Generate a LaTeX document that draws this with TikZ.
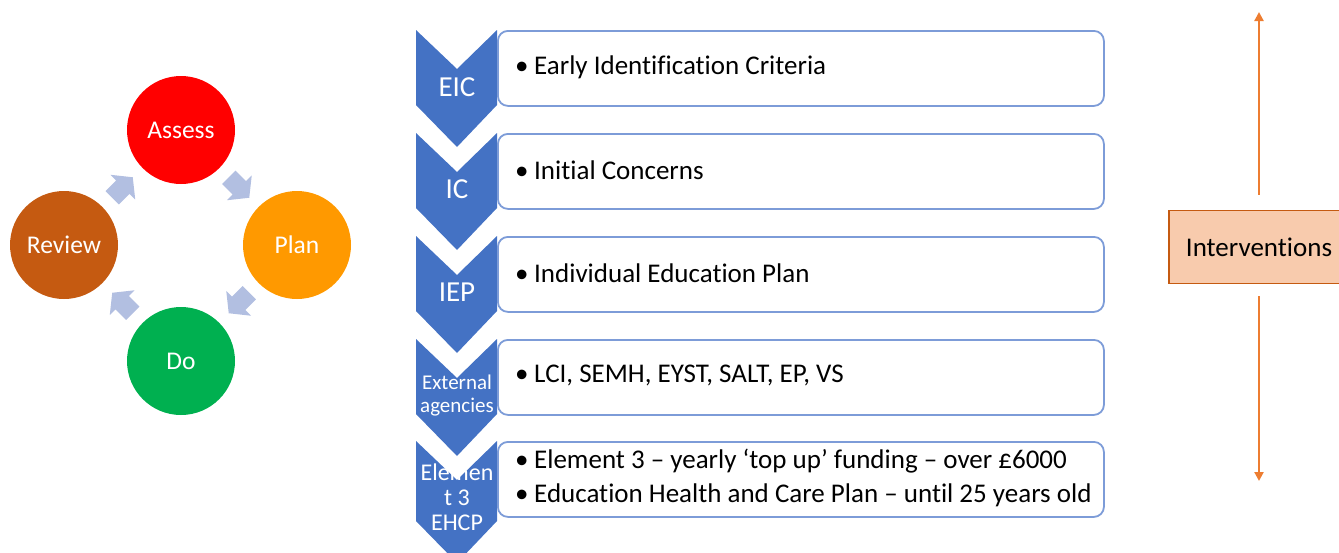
\documentclass[tikz,border=0pt]{standalone}
\usepackage{fontspec}
\setmainfont[Ligatures={NoCommon}]{Carlito}
\usetikzlibrary{calc,arrows.meta}
\definecolor{chevblue}{RGB}{68,114,196}
\definecolor{boxline}{RGB}{125,156,216}
\definecolor{cycarrow}{RGB}{178,191,225}
\definecolor{assessred}{RGB}{255,0,0}
\definecolor{planorange}{RGB}{255,153,0}
\definecolor{dogreen}{RGB}{0,176,80}
\definecolor{reviewbrown}{RGB}{197,90,17}
\definecolor{intfill}{RGB}{248,203,173}
\definecolor{intline}{RGB}{197,90,17}
\definecolor{intarrow}{RGB}{237,125,49}
\newcommand{\bitem}[1]{\makebox[19pt][l]{\textbullet}#1}
\begin{document}
\begin{tikzpicture}[x=1pt,y=-1pt,
  stage/.style={circle, minimum size=108pt, inner sep=0pt, text=white,
    font=\fontsize{25.5}{30}\selectfont},
  cyc/.style={fill=cycarrow},
  chev/.style={fill=chevblue},
  chevlabel/.style={text=white, align=center, inner sep=0pt},
  infobox/.style={draw=boxline, line width=1.8pt, rounded corners=10pt, fill=white,
    minimum width=606pt, minimum height=75pt, anchor=north west, inner sep=0pt},
  boxtext/.style={anchor=west, inner sep=0pt, align=left,
    font=\fontsize{27}{34}\selectfont},
  intbox/.style={draw=intline, line width=1.2pt, fill=intfill,
    minimum width=180pt, minimum height=73pt, inner sep=0pt,
    font=\fontsize{27}{32}\selectfont},
  intarr/.style={draw=intarrow, line width=2.5pt, -{Triangle[width=9pt,length=9pt]}},
]
\useasboundingbox (0,0) rectangle (1339,552);
\clip (0,0) rectangle (1339,552);

% ---- cycle ----
\node[stage, fill=assessred]   (assess) at (181,130) {Assess};
\node[stage, fill=planorange]  (plan)   at (297,245) {Plan};
\node[stage, fill=dogreen]     (do)     at (181,361) {Do};
\node[stage, fill=reviewbrown] (review) at (64,245)  {Review};

\foreach \a/\b/\r in {assess/plan/-45, plan/do/-135, do/review/135, review/assess/45}{
  \path[cyc, shift={($(\a)!0.5!(\b)$)}, rotate=\r]
    (-14.5,-9.5) -- (0.5,-9.5) -- (0.5,-17.5) -- (14.5,0) -- (0.5,17.5) -- (0.5,9.5) -- (-14.5,9.5) -- cycle;
}

% ---- chevrons ----
\foreach \T/\h in {30/75, 133/75, 236/75, 339/75, 441/80}{
  \fill[chev] (416,\T) -- (457,\T+39) -- (497,\T) -- (497,\T+\h) -- (457,\T+\h+42) -- (416,\T+\h) -- cycle;
}
\node[chevlabel, font=\fontsize{29}{32}\selectfont] (c1) at (457,87)  {EIC};
\node[chevlabel, font=\fontsize{29}{32}\selectfont] (c2) at (457,189) {IC};
\node[chevlabel, font=\fontsize{29}{32}\selectfont] (c3) at (457,292) {IEP};
\node[chevlabel, font=\fontsize{21}{23}\selectfont] (c4) at (457,396) {External\\agencies};
\node[chevlabel, font=\fontsize{24}{25}\selectfont] (c5) at (457,497) {Elemen\\t 3\\EHCP};

% ---- boxes ----
\node[infobox] (b1) at (497,30)  {};
\node[infobox] (b2) at (497,133) {};
\node[infobox] (b3) at (497,236) {};
\node[infobox] (b4) at (497,339) {};
\node[infobox] (b5) at (497,441) {};
\node[boxtext] (t1) at ([xshift=18pt,yshift=1.5pt]b1.west) {\bitem{Early Identification Criteria}};
\node[boxtext] (t2) at ([xshift=18pt,yshift=1.5pt]b2.west) {\bitem{Initial Concerns}};
\node[boxtext] (t3) at ([xshift=18pt,yshift=1.5pt]b3.west) {\bitem{Individual Education Plan}};
\node[boxtext] (t4) at ([xshift=18pt,yshift=1.5pt]b4.west) {\bitem{LCI, SEMH, EYST, SALT, EP, VS}};
\node[boxtext] (t5) at ([xshift=18pt,yshift=1.5pt]b5.west) {\bitem{Element 3 – yearly ‘top up’ funding – over £6000}\\
  \bitem{Education Health and Care Plan – until 25 years old}};

% ---- interventions ----
\node[intbox] (int) at (1259,247) {Interventions};
\coordinate (up)   at (1259,12);
\coordinate (down) at (1259,481);
\draw[intarr] ([yshift=15pt]int.north) -- (up);
\draw[intarr] ([yshift=-12pt]int.south) -- (down);
\end{tikzpicture}
\end{document}
